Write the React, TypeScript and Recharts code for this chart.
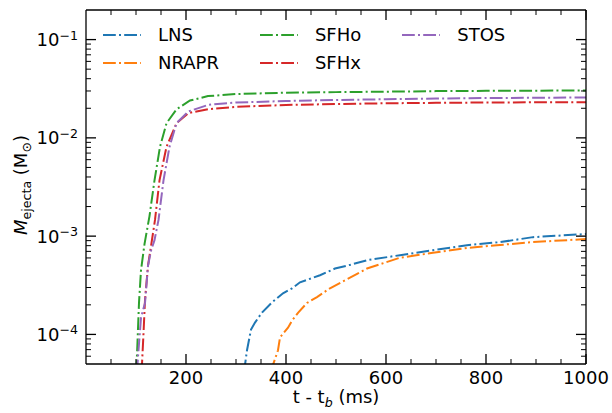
import React from 'react';
import { LineChart, Line, XAxis, YAxis, Legend } from 'recharts';

// ---- data (time after bounce in ms, ejecta mass in solar masses) ----
const lnsTime = [316, 318, 322, 330, 338, 352, 372, 394, 412, 428, 468, 498, 530, 562, 628, 694, 762, 828, 894, 1000];
const lnsMass = [2.5e-5, 4.9e-5, 6.9e-5, 1.12e-4, 1.32e-4, 1.67e-4, 2.12e-4, 2.62e-4, 2.94e-4, 3.39e-4, 4.0e-4, 4.68e-4, 5.13e-4, 5.69e-4, 6.4e-4, 7.19e-4, 8.09e-4, 8.69e-4, 9.77e-4, 1.05e-3];

const nraprTime = [372, 374, 384, 388, 404, 412, 424, 442, 462, 488, 514, 562, 628, 694, 762, 828, 894, 1000];
const nraprMass = [2.5e-5, 4.9e-5, 6.9e-5, 9.3e-5, 1.17e-4, 1.38e-4, 1.66e-4, 2.09e-4, 2.4e-4, 2.95e-4, 3.47e-4, 4.68e-4, 6.03e-4, 6.76e-4, 7.59e-4, 8.13e-4, 8.71e-4, 9.33e-4];

const sfhoTime = [98, 102, 106, 110, 117, 127, 137, 148, 161, 181, 208, 244, 300, 400, 500, 600, 700, 800, 900, 1000];
const sfhoMass = [2.5e-5, 6.2e-5, 2.1e-4, 4.5e-4, 8.3e-4, 1.6e-3, 3.7e-3, 8.1e-3, 1.41e-2, 1.95e-2, 2.4e-2, 2.66e-2, 2.79e-2, 2.88e-2, 2.92e-2, 2.95e-2, 2.99e-2, 3.01e-2, 3.02e-2, 3.04e-2];

const sfhxTime = [110, 112, 115, 118, 124, 130, 138, 147, 161, 181, 205, 245, 300, 400, 500, 600, 700, 800, 900, 1000];
const sfhxMass = [2.5e-5, 5.0e-5, 1.02e-4, 2.24e-4, 5.0e-4, 7.9e-4, 1.46e-3, 3.7e-3, 8.1e-3, 1.41e-2, 1.79e-2, 1.96e-2, 2.07e-2, 2.16e-2, 2.21e-2, 2.25e-2, 2.27e-2, 2.29e-2, 2.30e-2, 2.31e-2];

const stosTime = [101, 103, 105, 110, 118, 124, 130, 137, 145, 155, 167, 181, 205, 245, 300, 400, 500, 600, 700, 800, 900, 1000];
const stosMass = [2.5e-5, 5.0e-5, 6.9e-5, 1.48e-4, 2.09e-4, 5.0e-4, 7.1e-4, 9.1e-4, 1.46e-3, 3.7e-3, 8.1e-3, 1.41e-2, 1.86e-2, 2.17e-2, 2.29e-2, 2.37e-2, 2.43e-2, 2.47e-2, 2.51e-2, 2.54e-2, 2.56e-2, 2.58e-2];

const seriesNames = ['LNS', 'NRAPR', 'SFHo', 'SFHx', 'STOS'];
const seriesColors = ['#1f77b4', '#ff7f0e', '#2ca02c', '#d62728', '#9467bd'];
const legendColumns = [[0, 1], [2, 3], [4]];

const xMajorTicks = [200, 400, 600, 800, 1000];
const xMinorTicks = [50, 100, 150, 250, 300, 350, 450, 500, 550, 650, 700, 750, 850, 900, 950];
const yMajorTicks = [1e-4, 1e-3, 1e-2, 1e-1];
const yMajorExponents = ['\u22124', '\u22123', '\u22122', '\u22121'];
const yMinorTicks = [
  6e-5, 7e-5, 8e-5, 9e-5,
  2e-4, 3e-4, 4e-4, 5e-4, 6e-4, 7e-4, 8e-4, 9e-4,
  2e-3, 3e-3, 4e-3, 5e-3, 6e-3, 7e-3, 8e-3, 9e-3,
  2e-2, 3e-2, 4e-2, 5e-2, 6e-2, 7e-2, 8e-2, 9e-2,
];

const toSeries = (ts: number[], ms: number[]) => ts.map((t, i) => ({ t, m: ms[i] }));
const seriesData = [
  toSeries(lnsTime, lnsMass),
  toSeries(nraprTime, nraprMass),
  toSeries(sfhoTime, sfhoMass),
  toSeries(sfhxTime, sfhxMass),
  toSeries(stosTime, stosMass),
];

const FONT = 'DejaVu Sans';
const DASH = '12.8 3.2 2 3.2';
const MAJOR_LEN = 10;
const MINOR_LEN = 5;

const yMajorIndex = (v: number) => yMajorTicks.findIndex((m) => Math.abs(m - v) / m < 1e-6);
const isXMajor = (v: number) => xMajorTicks.includes(v);

const LeftTick = (props: any) => {
  const { x, y, payload } = props;
  const idx = yMajorIndex(payload.value);
  const major = idx >= 0;
  const len = major ? MAJOR_LEN : MINOR_LEN;
  return (
    <g>
      <path d={`M${x},${y}H${x + len}`} stroke="#000" strokeWidth={major ? 1.3 : 1} fill="none" />
      {major && (
        <text x={x - 8} y={y + 6.5} textAnchor="end" fontSize={18} fontFamily={FONT} fill="#000" stroke="none">
          10<tspan dy={-6.5} fontSize={12.6}>{yMajorExponents[idx]}</tspan>
        </text>
      )}
    </g>
  );
};

const RightTick = (props: any) => {
  const { x, y, payload } = props;
  const major = yMajorIndex(payload.value) >= 0;
  const len = major ? MAJOR_LEN : MINOR_LEN;
  return <path d={`M${x - len},${y}H${x}`} stroke="#000" strokeWidth={major ? 1.3 : 1} fill="none" />;
};

const BottomTick = (props: any) => {
  const { x, y, payload } = props;
  const major = isXMajor(payload.value);
  const len = major ? MAJOR_LEN : MINOR_LEN;
  return (
    <g>
      <path d={`M${x},${y - len}V${y}`} stroke="#000" strokeWidth={major ? 1.3 : 1} fill="none" />
      {major && (
        <text x={x} y={y + 20} textAnchor="middle" fontSize={18} fontFamily={FONT} fill="#000" stroke="none">
          {payload.value}
        </text>
      )}
    </g>
  );
};

const TopTick = (props: any) => {
  const { x, y, payload } = props;
  const major = isXMajor(payload.value);
  const len = major ? MAJOR_LEN : MINOR_LEN;
  return <path d={`M${x},${y}V${y + len}`} stroke="#000" strokeWidth={major ? 1.3 : 1} fill="none" />;
};

const YTitle = (props: any) => {
  const vb = props.viewBox || { x: 0, y: 10, width: 86, height: 354 };
  const cx = vb.x + 27;
  const cy = vb.y + vb.height / 2 - 2;
  return (
    <text transform={`translate(${cx},${cy}) rotate(-90)`} textAnchor="middle" fontSize={18} fontFamily={FONT} fill="#000">
      <tspan fontStyle="italic">M</tspan>
      <tspan dy={4} fontSize={12.6}>ejecta</tspan>
      <tspan dy={-4}>{' (M'}</tspan>
      <tspan dy={4} fontSize={12.6}>{'\u2299'}</tspan>
      <tspan dy={-4}>)</tspan>
    </text>
  );
};

const XTitle = (props: any) => {
  const vb = props.viewBox || { x: 86, y: 364, width: 500, height: 49 };
  return (
    <text x={vb.x + vb.width / 2} y={vb.y + 39} textAnchor="middle" fontSize={18} fontFamily={FONT} fill="#000">
      {'t - t'}
      <tspan dy={4} fontSize={12.6} fontStyle="italic">b</tspan>
      <tspan dy={-4}>{' (ms)'}</tspan>
    </text>
  );
};

const renderLegend = () => (
  <div style={{ display: 'flex', gap: 41, fontFamily: FONT, fontSize: 18, color: '#000' }}>
    {legendColumns.map((col, ci) => (
      <div key={ci} style={{ display: 'flex', flexDirection: 'column' }}>
        {col.map((i) => (
          <div key={i} style={{ display: 'flex', alignItems: 'center', height: 28 }}>
            <svg width={38} height={10} style={{ display: 'block' }}>
              <line x1={0} x2={38} y1={5} y2={5} stroke={seriesColors[i]} strokeWidth={2} strokeDasharray={DASH} />
            </svg>
            <span style={{ marginLeft: 17, lineHeight: '28px', whiteSpace: 'nowrap' }}>{seriesNames[i]}</span>
          </div>
        ))}
      </div>
    ))}
  </div>
);

export default function App() {
  const yTicks = [...yMinorTicks, ...yMajorTicks];
  const xTicks = [...xMinorTicks, ...xMajorTicks];
  return (
    <div style={{ position: 'absolute', left: 0, top: 0, width: 612, height: 413, background: '#fff' }}>
      <LineChart width={612} height={413} margin={{ top: 9, right: 25, bottom: 0, left: 0 }} style={{ fontFamily: FONT }}>
        <XAxis
          xAxisId="bottom"
          type="number"
          dataKey="t"
          domain={[0, 1000]}
          allowDataOverflow
          ticks={xTicks}
          interval={0}
          tickLine={false}
          tickSize={0}
          tickMargin={0}
          tick={BottomTick}
          axisLine={{ stroke: '#000', strokeWidth: 1.3 }}
          height={49}
          label={XTitle}
        />
        <XAxis
          xAxisId="top"
          orientation="top"
          type="number"
          dataKey="t"
          domain={[0, 1000]}
          allowDataOverflow
          ticks={xTicks}
          interval={0}
          tickLine={false}
          tickSize={0}
          tickMargin={0}
          tick={TopTick}
          axisLine={{ stroke: '#000', strokeWidth: 1.3 }}
          height={1}
        />
        <YAxis
          yAxisId="left"
          scale="log"
          type="number"
          domain={[5e-5, 0.2]}
          allowDataOverflow
          ticks={yTicks}
          interval={0}
          tickLine={false}
          tickSize={0}
          tickMargin={0}
          tick={LeftTick}
          axisLine={{ stroke: '#000', strokeWidth: 1.3 }}
          width={86}
          label={YTitle}
        />
        <YAxis
          yAxisId="right"
          orientation="right"
          scale="log"
          type="number"
          domain={[5e-5, 0.2]}
          allowDataOverflow
          ticks={yTicks}
          interval={0}
          tickLine={false}
          tickSize={0}
          tickMargin={0}
          tick={RightTick}
          axisLine={{ stroke: '#000', strokeWidth: 1.3 }}
          width={1}
        />
        {seriesData.map((d, i) => (
          <Line
            key={seriesNames[i]}
            name={seriesNames[i]}
            data={d}
            dataKey="m"
            xAxisId="bottom"
            yAxisId="left"
            type="linear"
            stroke={seriesColors[i]}
            strokeWidth={2}
            strokeDasharray={DASH}
            dot={false}
            activeDot={false}
            isAnimationActive={false}
          />
        ))}
        <Legend
          layout="vertical"
          align="center"
          verticalAlign="middle"
          content={renderLegend}
          wrapperStyle={{ left: 103, top: 21, width: 420, height: 56 }}
        />
      </LineChart>
    </div>
  );
}
